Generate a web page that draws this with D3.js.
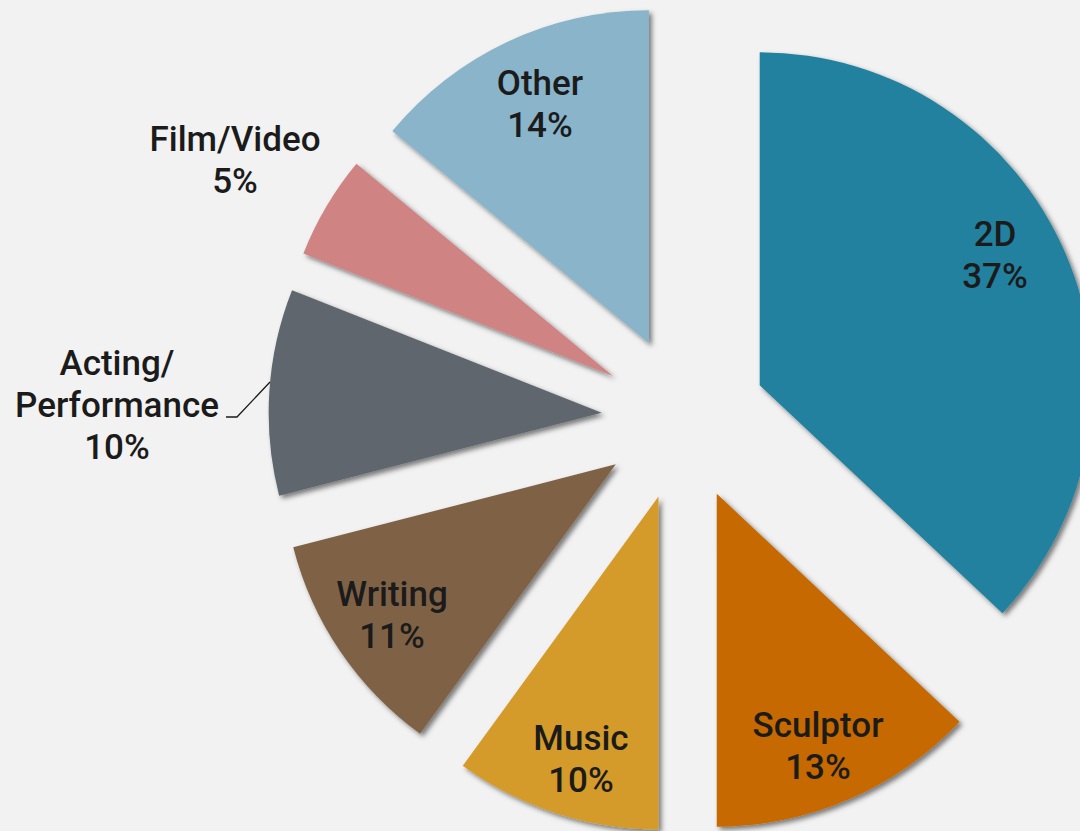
<!DOCTYPE html>
<html>
<head>
<meta charset="utf-8">
<script src="https://cdn.jsdelivr.net/npm/d3@7"></script>
<style>
  body { margin: 0; background: #f2f2f2; }
  svg { display: block; }
  .lbl { font-family: Roboto, "Liberation Sans", sans-serif; font-weight: 500; font-size: 35px; fill: #1b1b1b; }
</style>
</head>
<body>
<div id="chart"></div>
<script>
// categories and their shares, in percent
var categories = ["2D", "Sculptor", "Music", "Writing", "Acting/Performance", "Film/Video", "Other"];
var shares = [37, 13, 10, 11, 10, 5, 14];
// label text split into lines
var labelLines = [["2D"], ["Sculptor"], ["Music"], ["Writing"], ["Acting/", "Performance"], ["Film/Video"], ["Other"]];
var colors = ["#23819f", "#c56900", "#d49b29", "#7f6244", "#5e666d", "#d08383", "#89b4ca"];

// layout
var width = 1080, height = 831;
var cx = 684, cy = 418;
var radius = 333;
var explode = 82.5;
var lineH = 42;
// label block centres, pixels
var labelPos = [[995, 254], [818, 745], [581, 758], [392, 614], [117, 404], [235, 159], [540, 103]];

var svg = d3.select("#chart")
    .append("svg")
    .attr("width", width)
    .attr("height", height);

var defs = svg.append("defs");
var f = defs.append("filter").attr("id", "shadow")
    .attr("x", "-20%").attr("y", "-20%").attr("width", "140%").attr("height", "140%");
f.append("feDropShadow")
    .attr("dx", 3).attr("dy", 3)
    .attr("stdDeviation", 2.8)
    .attr("flood-color", "#000")
    .attr("flood-opacity", 0.5);

var pie = d3.pie().sort(null).value(function (d) { return d; });
var arcs = pie(shares);

var arc = d3.arc().innerRadius(0).outerRadius(radius);

var g = svg.append("g").attr("transform", "translate(" + cx + "," + cy + ")");

g.selectAll(".slice")
    .data(arcs)
    .enter().append("path")
    .attr("class", "slice")
    .attr("d", arc)
    .attr("fill", function (d, i) { return colors[i]; })
    .attr("filter", "url(#shadow)")
    .attr("transform", function (d) {
        var mid = (d.startAngle + d.endAngle) / 2;
        return "translate(" + (Math.sin(mid) * explode) + "," + (-Math.cos(mid) * explode) + ")";
    });

// leader line for Acting/Performance
svg.append("polyline")
    .attr("points", "226,417 237,417 270,382")
    .attr("fill", "none")
    .attr("stroke", "#1b1b1b")
    .attr("stroke-width", 1.3);

// labels
categories.forEach(function (c, i) {
    var lines = labelLines[i].concat([shares[i] + "%"]);
    var p = labelPos[i];
    var top = p[1] - (lines.length - 1) * lineH / 2;
    var t = svg.append("text")
        .attr("class", "lbl")
        .attr("text-anchor", "middle");
    lines.forEach(function (s, k) {
        t.append("tspan")
            .attr("x", p[0])
            .attr("y", top + k * lineH)
            .attr("dy", "0.36em")
            .text(s);
    });
});
</script>
</body>
</html>
